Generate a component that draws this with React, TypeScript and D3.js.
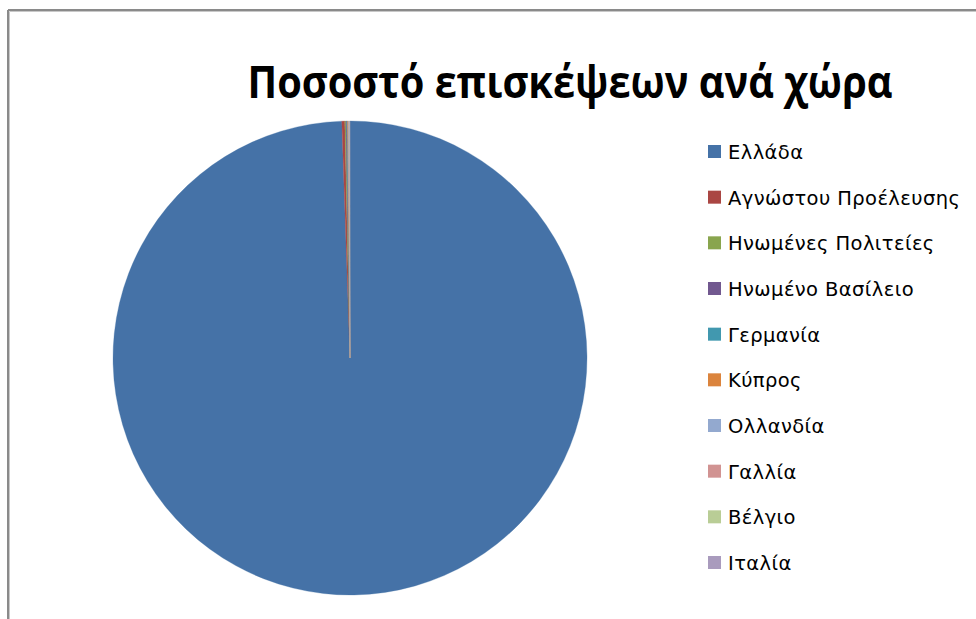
import React from "react";
import * as d3 from "d3";

const title = "Ποσοστό επισκέψεων ανά χώρα";
const countries = [
  "Ελλάδα",
  "Αγνώστου Προέλευσης",
  "Ηνωμένες Πολιτείες",
  "Ηνωμένο Βασίλειο",
  "Γερμανία",
  "Κύπρος",
  "Ολλανδία",
  "Γαλλία",
  "Βέλγιο",
  "Ιταλία",
];
const shares = [99.45, 0.2, 0.07, 0.06, 0.05, 0.05, 0.04, 0.03, 0.03, 0.02];
const colors = [
  "#4572A7",
  "#AA4643",
  "#89A54E",
  "#71588F",
  "#4198AF",
  "#DB843D",
  "#93A9CF",
  "#D19392",
  "#B9CD96",
  "#A99BBD",
];

const W = 976;
const H = 619;

export default function App() {
  const cx = 350;
  const cy = 358;
  const r = 237;
  const data = countries.map((c, i) => ({ name: c, value: shares[i], color: colors[i] }));
  const pie = d3
    .pie<any>()
    .sort(null)
    .value((d: any) => d.value)
    .startAngle(0)
    .endAngle(2 * Math.PI);
  const arcs = pie(data);
  const arc = d3.arc<any>().innerRadius(0).outerRadius(r);

  const legendY = d3
    .scalePoint<string>()
    .domain(countries)
    .range([152, 563]);

  return (
    <svg
      width={W}
      height={H}
      style={{ position: "absolute", left: 0, top: 0, background: "#fff" }}
    >
      <rect x={0} y={0} width={W} height={H} fill="#fff" />
      {/* frame */}
      <line x1={8} y1={10} x2={W} y2={10} stroke="#8a8a8a" strokeWidth={2} />
      <line x1={8} y1={10} x2={8} y2={H} stroke="#8a8a8a" strokeWidth={2} />
      <line x1={9.5} y1={11.5} x2={W} y2={11.5} stroke="#c8c8c8" strokeWidth={1} />
      <line x1={9.5} y1={11.5} x2={9.5} y2={H} stroke="#c8c8c8" strokeWidth={1} />

      <text
        x={570}
        y={98}
        textAnchor="middle"
        fontFamily="'Open Sans', 'Noto Sans', sans-serif"
        fontWeight="bold"
        fontSize={44}
        fill="#000"
        textLength={645}
        lengthAdjust="spacingAndGlyphs"
      >
        {title}
      </text>

      <g transform={`translate(${cx},${cy})`}>
        {arcs.map((a: any, i: number) => (
          <path key={i} d={arc(a) as string} fill={a.data.color} stroke={a.data.color} strokeWidth={0.3} />
        ))}
      </g>

      <g>
        {countries.map((c, i) => (
          <g key={c} transform={`translate(708,${legendY(c)})`}>
            <rect x={0} y={-7} width={13} height={13} fill={colors[i]} />
            <text
              x={20}
              y={0}
              dy="0.36em"
              fontFamily="'DejaVu Sans', Verdana, sans-serif"
              fontSize={19.5}
              letterSpacing={0.4}
              fill="#000"
            >
              {c}
            </text>
          </g>
        ))}
      </g>
    </svg>
  );
}
